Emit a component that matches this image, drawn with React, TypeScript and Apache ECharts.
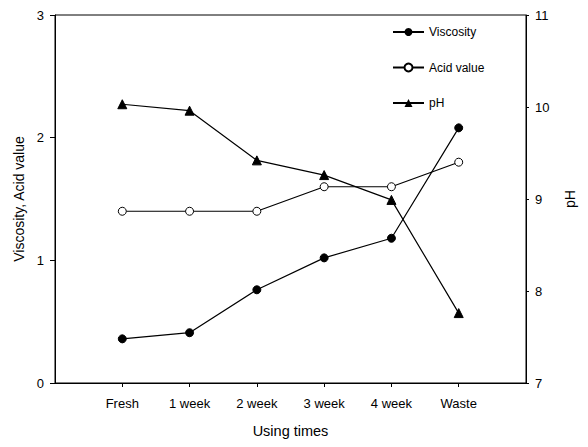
import React, { useEffect, useRef } from "react";
import * as echarts from "echarts";

const categories = ["Fresh", "1 week", "2 week", "3 week", "4 week", "Waste"];
const viscosity = [0.36, 0.41, 0.76, 1.02, 1.18, 2.08];
const acidValue = [1.4, 1.4, 1.4, 1.6, 1.6, 1.8];
const pH = [10.03, 9.96, 9.42, 9.26, 8.99, 7.76];
const leftTicks = [0, 1, 2, 3];
const rightTicks = [7, 8, 9, 10, 11];

const FONT = "Liberation Sans, Arial, sans-serif";

export default function App() {
  const ref = useRef<HTMLDivElement>(null);
  useEffect(() => {
    if (!ref.current) return;
    const chart = echarts.init(ref.current, undefined, { renderer: "svg" });
    const pos = categories.map((_, i) => i + 1);
    const toPairs = (arr: number[]) => arr.map((v, i) => [pos[i], v]);
    const lineStyle = { color: "#000", width: 1.2 };
    chart.setOption({
      animation: false,
      backgroundColor: "#fff",
      textStyle: { fontFamily: FONT, color: "#000" },
      grid: {
        left: 55,
        right: 62,
        top: 15,
        bottom: 64,
        show: true,
        borderColor: "#000",
        borderWidth: 1,
      },
      legend: {
        orient: "vertical",
        left: 387,
        top: 21,
        itemGap: 23.5,
        itemWidth: 31,
        itemHeight: 10,
        textStyle: { fontFamily: FONT, fontSize: 12, color: "#000" },
        data: ["Viscosity", "Acid value", "pH"],
      },
      xAxis: {
        type: "value",
        min: 0,
        max: 7,
        interval: 1,
        name: "Using times",
        nameLocation: "middle",
        nameGap: 40,
        nameTextStyle: { fontFamily: FONT, fontSize: 14.5, color: "#000" },
        splitLine: { show: false },
        axisLine: { show: true, lineStyle: { color: "#000", width: 1 } },
        axisTick: {
          show: true,
          length: 4,
          customValues: pos,
          lineStyle: { color: "#000" },
        },
        axisLabel: {
          customValues: pos,
          margin: 14,
          fontSize: 13,
          color: "#000",
          fontFamily: FONT,
          formatter: (v: number) => categories[Math.round(v) - 1] ?? "",
        },
      },
      yAxis: [
        {
          type: "value",
          min: leftTicks[0],
          max: leftTicks[leftTicks.length - 1],
          interval: 1,
          position: "left",
          name: "Viscosity, Acid value",
          nameLocation: "middle",
          nameGap: 26,
          nameTextStyle: { fontFamily: FONT, fontSize: 14, color: "#000" },
          splitLine: { show: false },
          axisLine: { show: true, lineStyle: { color: "#000", width: 1 } },
          axisTick: { show: true, length: 5, lineStyle: { color: "#000" } },
          axisLabel: { margin: 11, fontSize: 13, color: "#000", fontFamily: FONT },
        },
        {
          type: "value",
          min: rightTicks[0],
          max: rightTicks[rightTicks.length - 1],
          interval: 1,
          position: "right",
          name: "pH",
          nameLocation: "middle",
          nameGap: 37,
          nameTextStyle: { fontFamily: FONT, fontSize: 14, color: "#000" },
          splitLine: { show: false },
          axisLine: { show: true, lineStyle: { color: "#000", width: 1 } },
          axisTick: { show: true, length: 3, lineStyle: { color: "#000" } },
          axisLabel: { margin: 9, fontSize: 13, color: "#000", fontFamily: FONT },
        },
      ],
      series: [
        {
          name: "Viscosity",
          type: "line",
          yAxisIndex: 0,
          data: toPairs(viscosity),
          symbol: "circle",
          symbolSize: 8,
          itemStyle: { color: "#000", borderColor: "#000" },
          lineStyle,
        },
        {
          name: "Acid value",
          type: "line",
          yAxisIndex: 0,
          data: toPairs(acidValue),
          symbol: "circle",
          symbolSize: 8,
          itemStyle: { color: "#fff", borderColor: "#000", borderWidth: 1 },
          lineStyle,
        },
        {
          name: "pH",
          type: "line",
          yAxisIndex: 1,
          data: toPairs(pH),
          symbol: "triangle",
          symbolSize: 9,
          itemStyle: { color: "#000", borderColor: "#000" },
          lineStyle,
        },
      ],
    });
    return () => chart.dispose();
  }, []);
  return (
    <div
      ref={ref}
      style={{ position: "fixed", left: 0, top: 0, width: 588, height: 447, background: "#fff" }}
    />
  );
}
